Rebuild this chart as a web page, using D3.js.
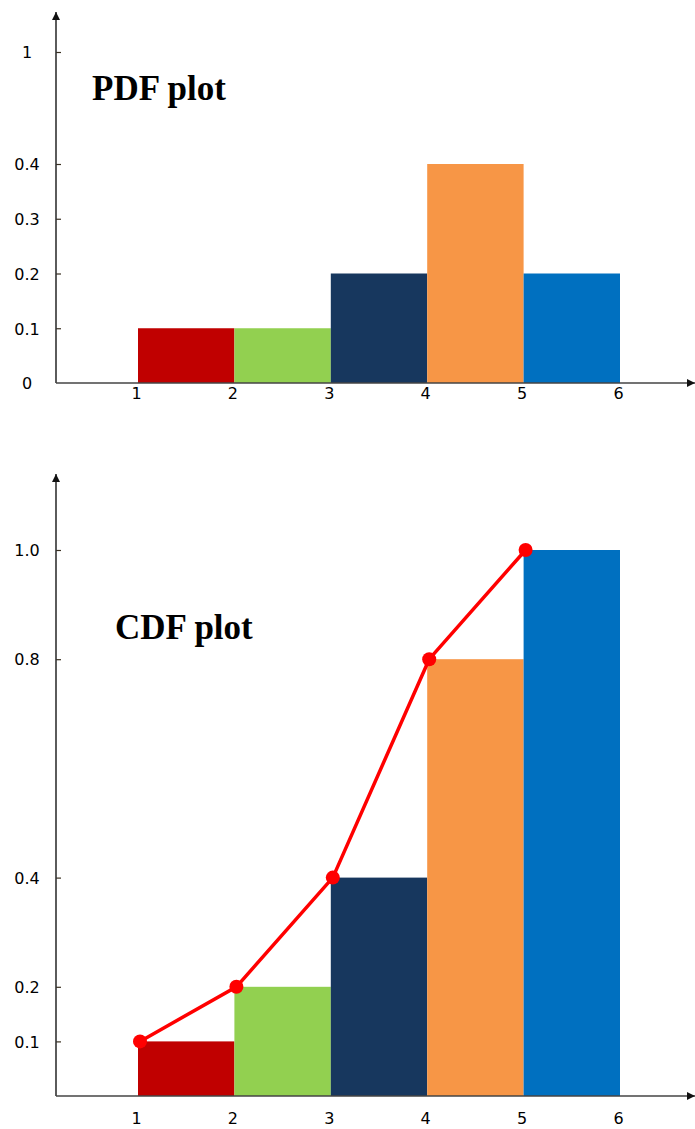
<!DOCTYPE html>
<html>
<head>
<meta charset="utf-8">
<script src="https://cdn.jsdelivr.net/npm/d3@7"></script>
<style>
  html, body { margin: 0; padding: 0; background: #fff; }
  svg { display: block; }
  .title { font-family: "Liberation Serif", "Times New Roman", serif; font-weight: bold; font-size: 35px; fill: #000; }
</style>
</head>
<body>
<script>
// Discrete distribution over outcomes 1..5
const categories = [1, 2, 3, 4, 5];
const pdfValues = [0.1, 0.1, 0.2, 0.4, 0.2];
const cdfValues = [0.1, 0.2, 0.4, 0.8, 1.0];
const barColors = ["#c00000", "#92d050", "#17375e", "#f79646", "#0070c0"];
const xTicks = [1, 2, 3, 4, 5, 6];
const pdfTicks = [0, 0.1, 0.2, 0.3, 0.4, 1];
const pdfTickLabels = ["0", "0.1", "0.2", "0.3", "0.4", "1"];
const cdfTicks = [0.1, 0.2, 0.4, 0.8, 1.0];
const cdfTickLabels = ["0.1", "0.2", "0.4", "0.8", "1.0"];

const W = 695, H = 1129;
const axisX = 56;
const svg = d3.select("body").append("svg").attr("width", W).attr("height", H);

const defs = svg.append("defs");
defs.append("marker")
  .attr("id", "arrow").attr("viewBox", "0 0 10 10")
  .attr("refX", 10).attr("refY", 5)
  .attr("markerWidth", 8).attr("markerHeight", 8)
  .attr("markerUnits", "userSpaceOnUse")
  .attr("orient", "auto")
  .append("path").attr("d", "M0,0 L10,5 L0,10 Z").attr("fill", "#111");

// shared horizontal scale: bar for outcome k spans [k, k+1]
const x = d3.scaleLinear().domain([1, 6]).range([138, 620]);

function styleLabels(sel) {
  sel.attr("font-family", "Tahoma, 'DejaVu Sans', Verdana, sans-serif")
     .attr("font-size", 16)
     .attr("fill", "#1a1f33");
}

function drawPanel(opts) {
  const g = svg.append("g");
  const y = opts.y;
  const base = y.range()[0];

  // bars
  g.selectAll("rect.bar").data(categories).join("rect")
    .attr("class", "bar")
    .attr("x", d => x(d))
    .attr("width", d => x(d + 1) - x(d))
    .attr("y", (d, i) => y(opts.values[i]))
    .attr("height", (d, i) => base - y(opts.values[i]))
    .attr("fill", (d, i) => barColors[i]);

  // y axis ticks and labels
  const yAxis = d3.axisLeft(y)
    .tickValues(opts.ticks)
    .tickFormat((d, i) => opts.tickLabels[i])
    .tickSizeInner(-5).tickSizeOuter(0);
  const ya = g.append("g").attr("transform", `translate(${axisX},0)`).call(yAxis);
  styleLabels(ya);
  ya.select(".domain").remove();
  ya.selectAll(".tick line").attr("stroke", "#3a3020").attr("stroke-width", 1.2)
    .filter(d => d === 0).remove();
  ya.selectAll(".tick text").attr("text-anchor", "middle").attr("x", -29).attr("dy", "0.36em");

  // x axis labels
  const xAxis = d3.axisBottom(x).tickValues(xTicks).tickFormat(d3.format("d")).tickSize(0).tickPadding(0);
  const xa = g.append("g").attr("transform", `translate(-2,${base + opts.labelOffset})`).call(xAxis);
  styleLabels(xa);
  xa.select(".domain").remove();

  // axis lines with arrowheads
  g.append("line")
    .attr("x1", axisX).attr("x2", axisX)
    .attr("y1", base).attr("y2", opts.arrowTop)
    .attr("stroke", "#333").attr("stroke-width", 1.6)
    .attr("marker-end", "url(#arrow)");
  g.append("line")
    .attr("x1", axisX).attr("x2", 695)
    .attr("y1", base).attr("y2", base)
    .attr("stroke", "#444").attr("stroke-width", 1.6)
    .attr("marker-end", "url(#arrow)");

  g.append("text").attr("class", "title")
    .attr("x", opts.titleX).attr("y", opts.titleY).text(opts.title);
  return g;
}

// PDF: linear up to 0.4, compressed segment up to 1
const yPdf = d3.scaleLinear().domain([0, 0.4, 1]).range([383, 164, 52]);
drawPanel({
  y: yPdf, values: pdfValues, ticks: pdfTicks, tickLabels: pdfTickLabels,
  arrowTop: 12, labelOffset: 5, title: "PDF plot", titleX: 92, titleY: 100
});

// CDF
const yCdf = d3.scaleLinear().domain([0, 1]).range([1096, 550]);
const cdfPanel = drawPanel({
  y: yCdf, values: cdfValues, ticks: cdfTicks, tickLabels: cdfTickLabels,
  arrowTop: 474, labelOffset: 17, title: "CDF plot", titleX: 115, titleY: 639
});

// cumulative line through the bar tops
const line = d3.line().x(d => x(d.k) + 2).y(d => yCdf(d.v));
const pts = categories.map((k, i) => ({ k, v: cdfValues[i] }));
cdfPanel.append("path").datum(pts)
  .attr("d", line).attr("fill", "none")
  .attr("stroke", "#ff0000").attr("stroke-width", 3.5);
cdfPanel.selectAll("circle.pt").data(pts).join("circle")
  .attr("class", "pt")
  .attr("cx", d => x(d.k) + 2).attr("cy", d => yCdf(d.v))
  .attr("r", 7).attr("fill", "#ff0000");
</script>
</body>
</html>
